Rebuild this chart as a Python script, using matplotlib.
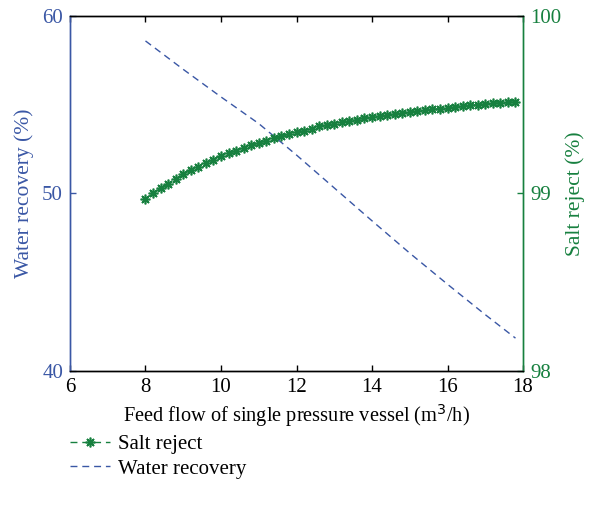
import matplotlib
matplotlib.use("Agg")
import matplotlib.pyplot as plt
import numpy as np

# ---- data ----
feed_flow = [8.0, 8.2, 8.4, 8.6, 8.8, 9.0, 9.2, 9.4, 9.6, 9.8,
             10.0, 10.2, 10.4, 10.6, 10.8, 11.0, 11.2, 11.4, 11.6, 11.8,
             12.0, 12.2, 12.4, 12.6, 12.8, 13.0, 13.2, 13.4, 13.6, 13.8,
             14.0, 14.2, 14.4, 14.6, 14.8, 15.0, 15.2, 15.4, 15.6, 15.8,
             16.0, 16.2, 16.4, 16.6, 16.8, 17.0, 17.2, 17.4, 17.6, 17.8]
salt_reject = [98.968, 99.001, 99.028, 99.054, 99.082, 99.107, 99.129, 99.149, 99.170, 99.189,
               99.208, 99.225, 99.239, 99.256, 99.270, 99.283, 99.296, 99.309, 99.320, 99.332,
               99.343, 99.353, 99.363, 99.376, 99.384, 99.391, 99.399, 99.406, 99.414, 99.422,
               99.427, 99.435, 99.440, 99.446, 99.451, 99.457, 99.463, 99.467, 99.472, 99.476,
               99.481, 99.485, 99.491, 99.495, 99.498, 99.502, 99.506, 99.509, 99.513, 99.515]

wr_flow = [8.0, 9.0, 10.0, 11.0, 12.0, 13.0, 14.0, 15.0, 16.0, 17.0, 17.8]
water_recovery = [58.57, 56.97, 55.42, 53.92, 52.15, 50.3, 48.45, 46.63, 44.88, 43.17, 41.85]

x_ticks = [6, 8, 10, 12, 14, 16, 18]
left_ticks = [40, 50, 60]
right_ticks = [98, 99, 100]

blue = "#3a57a5"
green = "#17803f"

plt.rcParams['font.family'] = ['Liberation Serif', 'DejaVu Serif']
plt.rcParams['font.size'] = 12

fig = plt.figure(figsize=(5.89, 5.07), dpi=100)
ax = fig.add_axes([0.1188, 0.2682, 0.7692, 0.7012])
ax2 = ax.twinx()

lw_wr, = ax.plot(wr_flow, water_recovery, color=blue, lw=1.0, dashes=(5, 3.5),
                 label="Water recovery")
lsr, = ax2.plot(feed_flow, salt_reject, color=green, lw=1.0, dashes=(5, 3.5),
                marker=(8, 2, 0), markersize=7, markeredgewidth=1.2,
                markeredgecolor=green, markerfacecolor=green, label="Salt reject")

ax.set_xlim(6, 18)
ax.set_ylim(40, 60)
ax2.set_ylim(98, 100)
ax.set_xticks(x_ticks)
ax.set_yticks(left_ticks)
ax2.set_yticks(right_ticks)

ax.tick_params(axis='x', direction='in', length=4, width=1, top=True, labelsize=15, pad=5)
ax.tick_params(axis='y', direction='in', length=4, width=1, colors=blue, labelsize=15, pad=5)
ax2.tick_params(axis='y', direction='in', length=4, width=1, colors=green, labelsize=15, pad=5)

for a in (ax, ax2):
    a.spines['top'].set_color('black')
    a.spines['bottom'].set_color('black')
    a.spines['left'].set_color(blue)
    a.spines['right'].set_color(green)
    for s in a.spines.values():
        s.set_linewidth(1.0)

ax.set_xlabel("Feed flow of single pressure vessel (m$^3$/h)", fontsize=14.7, labelpad=4)
ax.set_ylabel("Water recovery (%)", color=blue, fontsize=15.5)
ax2.set_ylabel("Salt reject (%)", color=green, fontsize=15.5)
ax.yaxis.set_label_coords(-0.08, 0.5)
ax2.yaxis.set_label_coords(1.093, 0.5)

fig.legend(handles=[lsr, lw_wr], labels=["Salt reject", "Water recovery"],
           loc='upper left', bbox_to_anchor=(0.105, 0.16), frameon=False,
           fontsize=15, handlelength=1.9, numpoints=1, labelspacing=0.25,
           handletextpad=0.4, borderaxespad=0)

fig.savefig("out.png", dpi=100)
